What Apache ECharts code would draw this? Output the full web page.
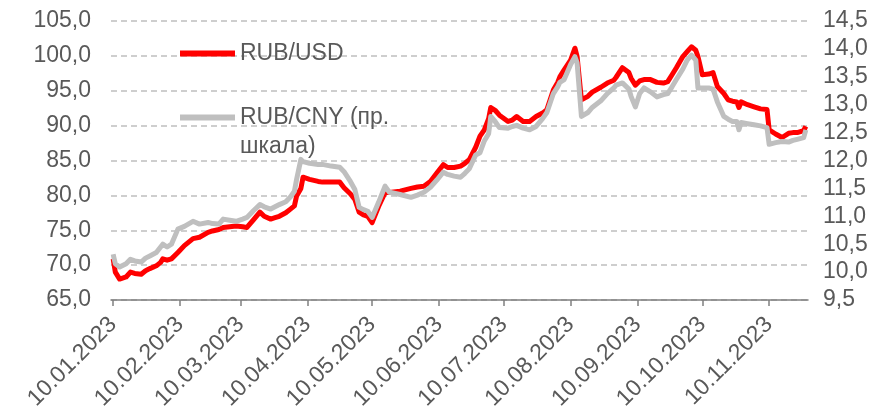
<!DOCTYPE html>
<html>
<head>
<meta charset="utf-8">
<script src="https://cdn.jsdelivr.net/npm/echarts@6/dist/echarts.min.js"></script>
<style>
  html, body { margin: 0; padding: 0; background: #fff; }
  #chart { width: 874px; height: 409px; }
</style>
</head>
<body>
<div id="chart"></div>
<script>
// даты наблюдений (дд.мм.гггг)
var dates = [
  '10.01.2023','11.01.2023','13.01.2023','16.01.2023','18.01.2023','20.01.2023','23.01.2023','25.01.2023','27.01.2023','30.01.2023',
  '01.02.2023','02.02.2023','04.02.2023','06.02.2023','09.02.2023','12.02.2023','16.02.2023','19.02.2023','23.02.2023','25.02.2023','28.02.2023',
  '02.03.2023','05.03.2023','08.03.2023','11.03.2023','13.03.2023','16.03.2023','19.03.2023','21.03.2023','24.03.2023','26.03.2023','28.03.2023','31.03.2023',
  '02.04.2023','04.04.2023','05.04.2023','07.04.2023','08.04.2023','11.04.2023','15.04.2023','17.04.2023','21.04.2023','25.04.2023','27.04.2023','30.04.2023',
  '02.05.2023','04.05.2023','06.05.2023','08.05.2023','10.05.2023','13.05.2023','16.05.2023','18.05.2023','23.05.2023','28.05.2023','31.05.2023',
  '03.06.2023','06.06.2023','09.06.2023','12.06.2023','14.06.2023','17.06.2023','20.06.2023','22.06.2023','24.06.2023','27.06.2023','29.06.2023',
  '01.07.2023','03.07.2023','04.07.2023','06.07.2023','08.07.2023','12.07.2023','14.07.2023','16.07.2023','19.07.2023','22.07.2023','25.07.2023','28.07.2023','30.07.2023',
  '02.08.2023','04.08.2023','05.08.2023','07.08.2023','10.08.2023','12.08.2023','13.08.2023','15.08.2023','18.08.2023','20.08.2023','24.08.2023','27.08.2023','30.08.2023','31.08.2023',
  '03.09.2023','06.09.2023','07.09.2023','09.09.2023','11.09.2023','13.09.2023','16.09.2023','19.09.2023','22.09.2023','24.09.2023','26.09.2023','28.09.2023',
  '01.10.2023','03.10.2023','05.10.2023','07.10.2023','08.10.2023','10.10.2023','13.10.2023','15.10.2023','17.10.2023','20.10.2023','22.10.2023','24.10.2023','26.10.2023','27.10.2023','28.10.2023','31.10.2023',
  '03.11.2023','06.11.2023','09.11.2023','10.11.2023','13.11.2023','16.11.2023','19.11.2023','21.11.2023','23.11.2023','26.11.2023','27.11.2023'
];

// RUB/USD, левая шкала
var rubUsd = [
  70.9, 69.0, 68.0, 68.3, 69.0, 68.8, 68.7, 69.2, 69.5, 69.9,
  70.4, 70.9, 70.7, 70.9, 71.8, 72.8, 73.8, 74.0, 74.7, 74.9, 75.1,
  75.4, 75.5, 75.6, 75.5, 75.4, 76.5, 77.6, 77.0, 76.6, 76.8, 77.0, 77.5,
  78.0, 78.5, 79.9, 81.0, 82.6, 82.3, 82.0, 81.9, 81.9, 81.9, 81.1, 80.2,
  79.4, 77.6, 77.2, 77.0, 76.1, 78.4, 80.4, 80.4, 80.6, 81.0, 81.2,
  81.3, 82.0, 83.2, 84.4, 84.0, 84.0, 84.2, 84.6, 85.1, 86.9, 88.5,
  89.4, 91.0, 92.6, 92.2, 91.5, 90.6, 90.8, 91.3, 90.6, 90.6, 91.3, 91.8, 92.3,
  95.1, 96.2, 97.0, 98.0, 99.4, 101.1, 99.9, 93.7, 94.2, 94.8, 95.5, 96.1, 96.5, 96.9,
  98.3, 97.6, 96.8, 95.8, 96.4, 96.6, 96.6, 96.2, 96.1, 96.3, 97.3, 98.3,
  99.9, 100.6, 101.3, 100.8, 99.9, 97.3, 97.4, 97.6, 95.6, 94.6, 93.7, 93.5, 93.4, 92.6, 93.4, 93.0,
  92.7, 92.4, 92.3, 89.4, 88.8, 88.3, 88.9, 89.0, 89.0, 89.3, 89.9
];

// RUB/CNY, правая шкала
var rubCny = [
  10.32, 10.15, 10.09, 10.15, 10.23, 10.20, 10.18, 10.25, 10.29, 10.35,
  10.45, 10.50, 10.45, 10.50, 10.77, 10.82, 10.91, 10.86, 10.89, 10.87, 10.86,
  10.95, 10.93, 10.91, 10.95, 10.98, 11.10, 11.21, 11.17, 11.13, 11.17, 11.21, 11.26,
  11.34, 11.45, 11.66, 12.02, 11.98, 11.95, 11.93, 11.93, 11.90, 11.88, 11.80, 11.62,
  11.48, 11.16, 11.12, 11.09, 10.98, 11.25, 11.54, 11.43, 11.39, 11.34, 11.38,
  11.43, 11.52, 11.65, 11.79, 11.75, 11.72, 11.70, 11.77, 11.85, 12.10, 12.14,
  12.35, 12.48, 12.79, 12.70, 12.59, 12.58, 12.61, 12.63, 12.58, 12.55, 12.61, 12.75, 12.86,
  13.20, 13.32, 13.40, 13.45, 13.72, 13.86, 13.75, 12.79, 12.86, 12.95, 13.07, 13.20, 13.30, 13.35,
  13.39, 13.28, 13.15, 12.96, 13.20, 13.30, 13.23, 13.14, 13.18, 13.20, 13.32, 13.45,
  13.64, 13.80, 13.89, 13.80, 13.30, 13.30, 13.30, 13.28, 13.05, 12.79, 12.74, 12.70, 12.70, 12.55, 12.68, 12.66,
  12.64, 12.62, 12.59, 12.29, 12.32, 12.34, 12.33, 12.36, 12.38, 12.41, 12.55
];

var seriesNames = ['RUB/USD', 'RUB/CNY (пр.\nшкала)'];

// календарные дни для оси X
function fmt(d) {
  var dd = ('0' + d.getUTCDate()).slice(-2);
  var mm = ('0' + (d.getUTCMonth() + 1)).slice(-2);
  return dd + '.' + mm + '.' + d.getUTCFullYear();
}
var days = [];
for (var t = Date.UTC(2023, 0, 9); t <= Date.UTC(2023, 10, 28); t += 86400000) {
  days.push(fmt(new Date(t)));
}

var textColor = '#595959';
var font = 'Liberation Sans';
var isTenth = function (idx, val) { return val.slice(0, 2) === '10'; };
var comma = function (v, n) { return v.toFixed(n).replace('.', ','); };

var chart = echarts.init(document.getElementById('chart'));
chart.setOption({
  animation: false,
  grid: { left: 111, right: 66, top: 21, bottom: 109, outerBoundsMode: 'none' },
  legend: [
    {
      left: 180, top: 42, padding: 0,
      itemWidth: 55, itemHeight: 6, icon: 'rect',
      data: [seriesNames[0]],
      textStyle: { fontFamily: font, fontSize: 23, color: textColor, lineHeight: 23 }
    },
    {
      // пустая первая строка, чтобы значок стоял напротив первой строки подписи
      left: 180, top: 74, padding: 0,
      itemWidth: 55, itemHeight: 6, icon: 'rect',
      data: [seriesNames[1]],
      formatter: function (name) { return '\n' + name; },
      textStyle: { fontFamily: font, fontSize: 23, color: textColor, lineHeight: 29 }
    }
  ],
  xAxis: {
    type: 'category',
    data: days,
    boundaryGap: false,
    axisLine: { lineStyle: { color: '#808080', width: 1.5 } },
    axisTick: { interval: isTenth, length: 6, lineStyle: { color: '#808080', width: 1.5 } },
    axisLabel: {
      interval: isTenth, rotate: 45, margin: 21,
      fontFamily: font, fontSize: 23, color: textColor
    }
  },
  yAxis: [
    {
      type: 'value', min: 65, max: 105, interval: 5,
      axisLine: { show: false }, axisTick: { show: false },
      axisLabel: { margin: 20, fontFamily: font, fontSize: 23, color: textColor,
        formatter: function (v) { return comma(v, 1); } },
      splitLine: { lineStyle: { color: '#bfbfbf', width: 1.5, type: [6, 4] } }
    },
    {
      type: 'value', min: 9.5, max: 14.5, interval: 0.5,
      axisLine: { show: false }, axisTick: { show: false },
      axisLabel: { margin: 15, fontFamily: font, fontSize: 23, color: textColor,
        formatter: function (v) { return comma(v, 1); } },
      splitLine: { show: false }
    }
  ],
  series: [
    {
      name: seriesNames[0], type: 'line', yAxisIndex: 0,
      data: dates.map(function (d, i) { return [d, rubUsd[i]]; }),
      showSymbol: false, color: '#ff0000',
      lineStyle: { width: 5, color: '#ff0000', join: 'round' }
    },
    {
      name: seriesNames[1], type: 'line', yAxisIndex: 1,
      data: dates.map(function (d, i) { return [d, rubCny[i]]; }),
      showSymbol: false, color: '#bfbfbf',
      lineStyle: { width: 5, color: '#bfbfbf', join: 'round' }
    }
  ]
});
</script>
</body>
</html>
